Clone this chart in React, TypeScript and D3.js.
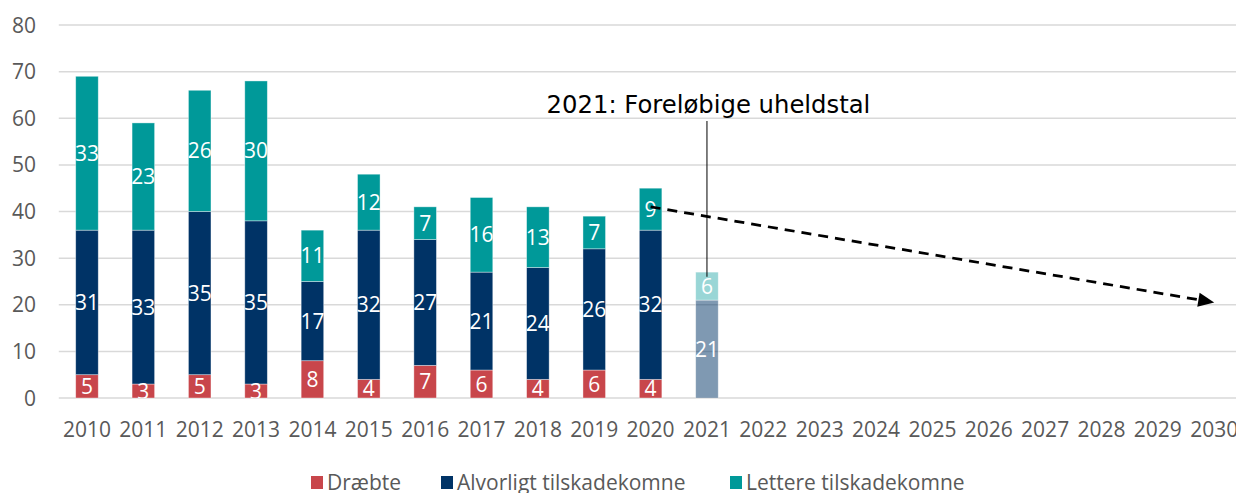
import React from "react";
import * as d3 from "d3";

const years = ["2010","2011","2012","2013","2014","2015","2016","2017","2018","2019","2020","2021","2022","2023","2024","2025","2026","2027","2028","2029","2030"];
const dataYears = ["2010","2011","2012","2013","2014","2015","2016","2017","2018","2019","2020","2021"];
const killed = [5, 3, 5, 3, 8, 4, 7, 6, 4, 6, 4, 0];
const seriouslyInjured = [31, 33, 35, 35, 17, 32, 27, 21, 24, 26, 32, 21];
const slightlyInjured = [33, 23, 26, 30, 11, 12, 7, 16, 13, 7, 9, 6];
const preliminaryYear = "2021";
const yTicks = [0, 10, 20, 30, 40, 50, 60, 70, 80];
const seriesNames = ["Dræbte", "Alvorligt tilskadekomne", "Lettere tilskadekomne"];
const seriesColors = ["#C8464B", "#003366", "#009999"];
const trendStart = { year: "2020", value: 41 };
const trendEnd = { year: "2030", value: 20.5 };
const annotationText = "2021: Foreløbige uheldstal";
const annotationLineBottom = 26;

const W = 1236, H = 493;
const FONT = "'Open Sans', sans-serif";

export default function App() {
  const x = d3.scaleBand<string>().domain(years).range([58.8, 1242.4]).paddingInner(0.6).paddingOuter(0.3);
  const y = d3.scaleLinear().domain([0, 80]).range([398, 25]);
  const keys = ["k", "s", "l"];
  const rows = dataYears.map((yr, i) => ({ year: yr, k: killed[i], s: seriouslyInjured[i], l: slightlyInjured[i] }));
  const stacked = d3.stack<any>().keys(keys)(rows);
  const bw = x.bandwidth();
  const cx = (yr: string) => (x(yr) as number) + bw / 2;

  const x1 = cx(trendStart.year), y1 = y(trendStart.value);
  const x2 = cx(trendEnd.year), y2 = y(trendEnd.value);
  const ang = Math.atan2(y2 - y1, x2 - x1);
  const ahL = 16, ahW = 7;
  const bx = x2 - ahL * Math.cos(ang), by = y2 - ahL * Math.sin(ang);
  const p1 = [bx + ahW * Math.sin(ang), by - ahW * Math.cos(ang)];
  const p2 = [bx - ahW * Math.sin(ang), by + ahW * Math.cos(ang)];

  const legendX = [311, 441, 730];

  return (
    <div style={{ position: "absolute", left: 0, top: 0 }}>
      <svg width={W} height={H} style={{ display: "block", background: "#fff" }}>
        <defs>
          <clipPath id="plotclip">
            <rect x={0} y={0} width={W} height={y(0)} />
          </clipPath>
        </defs>
        {yTicks.map((t) => (
          <g key={t}>
            <line x1={58.8} x2={1242} y1={y(t)} y2={y(t)} stroke="#D9D9D9" strokeWidth={1.5} />
            <text x={36} y={y(t)} dy="0.36em" textAnchor="end" fontFamily={FONT} fontSize={21} fill="#595959">{t}</text>
          </g>
        ))}
        {stacked.map((s, si) => (
          <g key={si}>
            {s.map((d: any) => {
              const yr = d.data.year;
              const v = d[1] - d[0];
              if (v <= 0) return null;
              const prelim = yr === preliminaryYear;
              const op = prelim ? (si === 2 ? 0.4 : 0.5) : 1;
              return (
                <rect key={yr} x={x(yr)} y={y(d[1])} width={bw} height={y(d[0]) - y(d[1])}
                  fill={seriesColors[si]} fillOpacity={op} stroke="#ffffff" strokeOpacity={0.5} strokeWidth={0.75} />
              );
            })}
          </g>
        ))}
        <g clipPath="url(#plotclip)">
          {stacked.map((s, si) => (
            <g key={si}>
              {s.map((d: any) => {
                const yr = d.data.year;
                const v = d[1] - d[0];
                if (v <= 0) return null;
                return (
                  <text key={yr} x={cx(yr)} y={y((d[0] + d[1]) / 2)} dy="0.36em" textAnchor="middle"
                    fontFamily={FONT} fontSize={21} fill="#ffffff">{v}</text>
                );
              })}
            </g>
          ))}
        </g>
        {years.map((yr) => (
          <text key={yr} x={cx(yr)} y={437} textAnchor="middle" fontFamily={FONT} fontSize={21} fill="#595959">{yr}</text>
        ))}
        <line x1={x1} y1={y1} x2={bx} y2={by} stroke="#000" strokeWidth={2.75} strokeDasharray="10 7" />
        <polygon points={`${x2},${y2} ${p1[0]},${p1[1]} ${p2[0]},${p2[1]}`} fill="#000" />
        <line x1={cx(preliminaryYear)} x2={cx(preliminaryYear)} y1={121} y2={y(annotationLineBottom)} stroke="#000" strokeWidth={1} />
        <text x={cx(preliminaryYear) + 1.5} y={113} textAnchor="middle" fontFamily="'DejaVu Sans', sans-serif" fontSize={24.3} fill="#000">{annotationText}</text>
        {seriesNames.map((n, i) => (
          <g key={n}>
            <rect x={legendX[i]} y={476} width={12} height={13} fill={seriesColors[i]} />
            <text x={legendX[i] + 16} y={490} fontFamily={FONT} fontSize={21} fill="#595959">{n}</text>
          </g>
        ))}
      </svg>
    </div>
  );
}
